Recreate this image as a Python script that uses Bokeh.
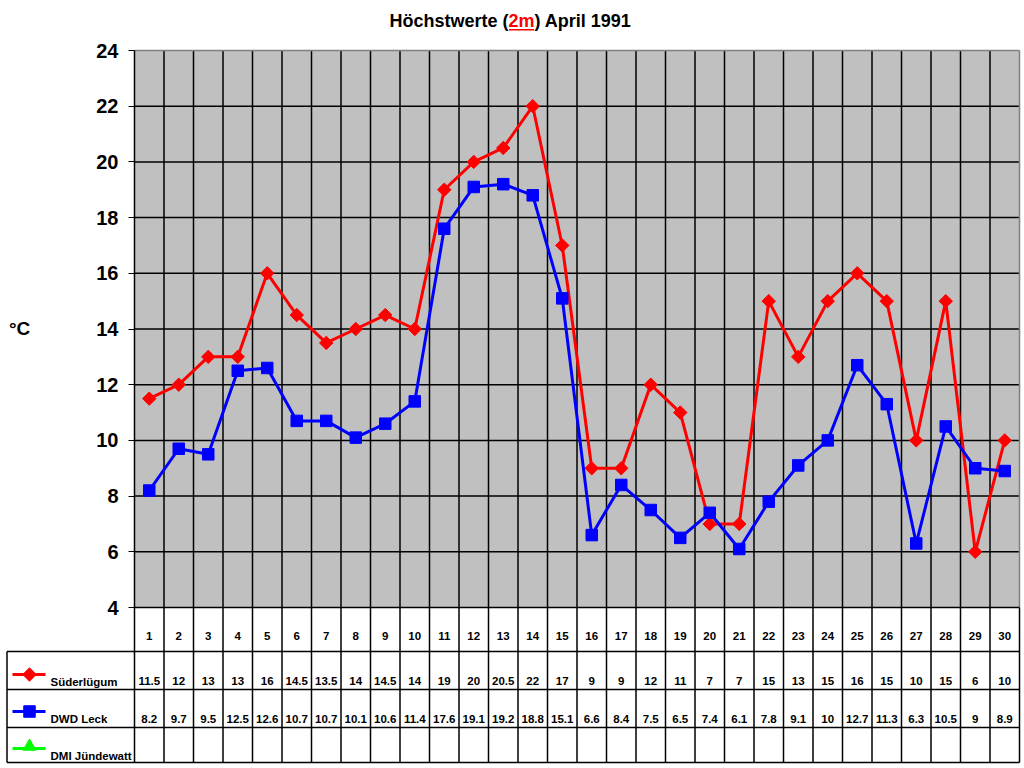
import math
from bokeh.plotting import figure
from bokeh.models import Range1d, LinearAxis, FixedTicker
from bokeh.core.properties import value
from bokeh.embed import file_html
from bokeh.resources import INLINE

# ---------------- data ----------------
days = list(range(1, 31))
suderlugum = [11.5, 12, 13, 13, 16, 14.5, 13.5, 14, 14.5, 14, 19, 20, 20.5, 22, 17,
              9, 9, 12, 11, 7, 7, 15, 13, 15, 16, 15, 10, 15, 6, 10]
dwd_leck = [8.2, 9.7, 9.5, 12.5, 12.6, 10.7, 10.7, 10.1, 10.6, 11.4, 17.6, 19.1, 19.2, 18.8, 15.1,
            6.6, 8.4, 7.5, 6.5, 7.4, 6.1, 7.8, 9.1, 10, 12.7, 11.3, 6.3, 10.5, 9, 8.9]
dmi_jundewatt = []  # no values in this month
series_names = ["Süderlügum", "DWD Leck", "DMI Jündewatt"]
y_ticks = [4, 6, 8, 10, 12, 14, 16, 18, 20, 22, 24]
title_parts = ["Höchstwerte (", "2m", ") April 1991"]
y_unit = "°C"

# ---------------- layout helpers ----------------
W, H = 1022, 766
SX = 29.5
SY = 27.85
X0 = 0.5 - 134 / SX
X1 = X0 + W / SX
Y1 = 24 + 50 / SY
Y0 = Y1 - H / SY


def dx(px):
    return X0 + px / SX


def dy(py):
    return Y1 - py / SY


FONT = value("Liberation Sans")
RED, BLUE, GREEN = "#FF0000", "#0000FF", "#00FF00"
LW = 1.5

p = figure(width=W, height=H, x_range=Range1d(X0, X1), y_range=Range1d(Y0, Y1),
           x_axis_type=None, y_axis_type=None, min_border=0, outline_line_color=None,
           toolbar_location=None, output_backend="svg",
           background_fill_color="white", border_fill_color="white")

yax = LinearAxis(ticker=FixedTicker(ticks=y_ticks), fixed_location=0.5,
                 axis_line_color=None, major_tick_out=6, major_tick_in=0,
                 major_tick_line_color="black", major_tick_line_width=1,
                 minor_tick_line_color=None, major_label_standoff=10,
                 major_label_text_font="Liberation Sans",
                 major_label_text_font_style="bold",
                 major_label_text_font_size="20px",
                 major_label_text_color="black")
p.add_layout(yax, "left")

# plot area
lo, hi = y_ticks[0], y_ticks[-1]
xl_plot, xr_plot = days[0] - 0.5, days[-1] + 0.5
p.quad(left=[xl_plot], right=[xr_plot], bottom=[lo], top=[hi],
       fill_color="#C0C0C0", line_color=None)

inner_edges = [d + 0.5 for d in days[:-1]]
p.segment(x0=inner_edges, y0=lo, x1=inner_edges, y1=hi, line_color="black", line_width=LW)
hgrid = y_ticks[1:-1]
p.segment(x0=xl_plot, y0=hgrid, x1=xr_plot, y1=hgrid, line_color="black", line_width=LW)

# table geometry
y_h1 = dy(651)
y_h2 = dy(689)
y_h3 = dy(727)
y_bot = dy(762)
x_tab = dx(6.5)

# table vertical lines
all_edges = [d + 0.5 for d in days]
p.segment(x0=all_edges, y0=y_bot, x1=all_edges, y1=lo, line_color="black", line_width=LW)
p.segment(x0=[x_tab], y0=[y_h1], x1=[x_tab], y1=[y_bot], line_color="black", line_width=LW)
# table horizontal lines
hy = [y_h1, y_h2, y_h3, y_bot]
p.segment(x0=x_tab, y0=hy, x1=xr_plot, y1=hy, line_color="black", line_width=LW)

# plot borders
p.segment(x0=[xl_plot], y0=[hi], x1=[xr_plot], y1=[hi], line_color="#808080", line_width=LW)
p.segment(x0=[xr_plot], y0=[lo], x1=[xr_plot], y1=[hi], line_color="#808080", line_width=LW)
p.segment(x0=[xl_plot], y0=[hi], x1=[xl_plot], y1=[y_bot], line_color="black", line_width=LW)
p.segment(x0=[xl_plot], y0=[lo], x1=[xr_plot], y1=[lo], line_color="black", line_width=LW)

# series
p.line(days, suderlugum, line_color=RED, line_width=3)
p.scatter(days, suderlugum, marker="square", angle=math.pi / 4, size=9.5,
          fill_color=RED, line_color=RED)
p.line(days, dwd_leck, line_color=BLUE, line_width=3)
p.scatter(days, dwd_leck, marker="square", size=11.5, fill_color=BLUE, line_color=BLUE)

# table texts
def fmt(v):
    return f"{v:g}"

txt = dict(text_font=FONT, text_font_style="bold", text_font_size="11.5px",
           text_color="black", text_baseline="middle")
p.text(x=days, y=[dy(635.8)] * len(days), text=[str(d) for d in days], text_align="center", **txt)
p.text(x=days, y=[dy(680.8)] * len(days), text=[fmt(v) for v in suderlugum], text_align="center", **txt)
p.text(x=days, y=[dy(718.3)] * len(days), text=[fmt(v) for v in dwd_leck], text_align="center", **txt)

# legend inside table
leg_y = [dy(674), dy(711), dy(748)]
p.segment(x0=dx(12), x1=dx(45), y0=leg_y, y1=leg_y, line_color=[RED, BLUE, GREEN], line_width=3)
p.scatter([dx(29)], [leg_y[0]], marker="square", angle=math.pi / 4, size=9.5,
          fill_color=RED, line_color=RED)
p.scatter([dx(29)], [leg_y[1]], marker="square", size=11.5, fill_color=BLUE, line_color=BLUE)
p.scatter([dx(29)], [dy(746)], marker="triangle", size=13, fill_color=GREEN, line_color=GREEN)
p.text(x=[dx(50)] * 3, y=[dy(681), dy(718), dy(755.5)], text=series_names, text_align="left", **txt)

# unit label
p.text(x=[dx(8.5)], y=[dy(327.5)], text=[y_unit], text_font=FONT, text_font_style="bold",
       text_font_size="19px", text_color="black", text_align="left", text_baseline="middle")

# title
tt = dict(text_font=FONT, text_font_style="bold", text_font_size="18px", text_baseline="middle")
ty = dy(20.5)
p.text(x=[dx(508)], y=[ty], text=[title_parts[0]], text_align="right", text_color="black", **tt)
p.text(x=[dx(521)], y=[ty], text=[title_parts[1]], text_align="center", text_color=RED, **tt)
p.text(x=[dx(534)], y=[ty], text=[title_parts[2]], text_align="left", text_color="black", **tt)
p.segment(x0=[dx(508.5)], x1=[dx(533.5)], y0=[dy(29.3)], y1=[dy(29.3)], line_color=RED, line_width=1.5)

open("out.html", "w").write(file_html(p, INLINE))
